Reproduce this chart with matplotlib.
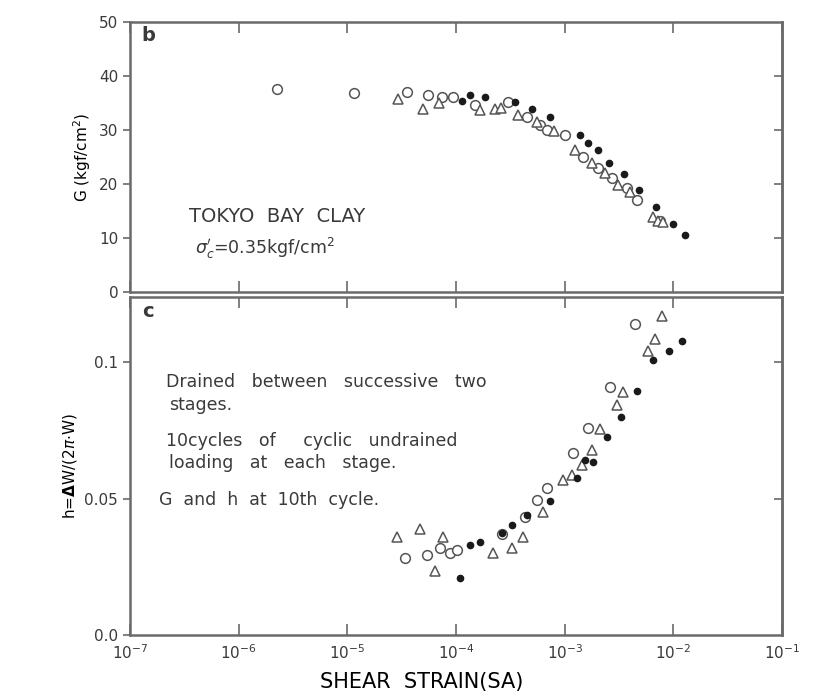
import matplotlib.pyplot as plt
from matplotlib.ticker import FixedLocator, NullLocator

# panel b : shear modulus G (kgf/cm2)
g_circ_x = [2.25e-6, 1.15e-5, 3.5e-5, 5.5e-5, 7.4e-5, 9.4e-5, 1.49e-4, 3.0e-4, 4.5e-4,
            5.9e-4, 6.9e-4, 1.0e-3, 1.47e-3, 2.02e-3, 2.72e-3, 3.73e-3, 4.6e-3, 7.5e-3]
g_circ_y = [37.6, 36.9, 37.0, 36.5, 36.1, 36.1, 34.6, 35.2, 32.5,
            30.9, 30.0, 29.1, 25.0, 23.0, 21.1, 19.3, 17.0, 13.2]
g_tri_x = [2.9e-5, 5.0e-5, 7.0e-5, 1.66e-4, 2.3e-4, 2.6e-4, 3.7e-4, 5.5e-4, 8.0e-4,
           1.24e-3, 1.78e-3, 2.34e-3, 3.09e-3, 4.0e-3, 6.5e-3, 7.2e-3, 8.0e-3]
g_tri_y = [35.7, 34.0, 35.0, 33.7, 34.0, 34.2, 32.8, 31.5, 29.8,
           26.3, 23.9, 22.0, 19.8, 18.5, 13.9, 13.2, 13.0]
g_dot_x = [1.13e-4, 1.34e-4, 1.85e-4, 3.48e-4, 5.0e-4, 7.3e-4, 1.38e-3, 1.63e-3,
           2.02e-3, 2.55e-3, 3.5e-3, 4.8e-3, 6.9e-3, 9.9e-3, 1.28e-2]
g_dot_y = [35.5, 36.5, 36.1, 35.2, 34.0, 32.4, 29.1, 27.6,
           26.3, 24.0, 21.8, 18.9, 15.8, 12.6, 10.6]

# panel c : damping ratio h
h_circ_x = [3.39e-5, 5.4e-5, 7.1e-5, 8.8e-5, 1.02e-4, 2.64e-4, 4.3e-4, 5.55e-4,
            6.86e-4, 1.19e-3, 1.63e-3, 2.61e-3, 4.42e-3]
h_circ_y = [0.0283, 0.0294, 0.032, 0.0300, 0.031, 0.037, 0.0434, 0.0496,
            0.054, 0.0669, 0.076, 0.091, 0.114]
h_tri_x = [2.86e-5, 4.66e-5, 6.4e-5, 7.6e-5, 2.18e-4, 3.27e-4, 4.12e-4, 6.3e-4, 9.6e-4,
           1.16e-3, 1.44e-3, 1.78e-3, 2.11e-3, 3.02e-3, 3.43e-3, 5.82e-3, 6.76e-3, 7.83e-3]
h_tri_y = [0.036, 0.039, 0.0235, 0.036, 0.030, 0.032, 0.036, 0.0452, 0.057,
           0.0588, 0.0625, 0.068, 0.0754, 0.0845, 0.089, 0.104, 0.1085, 0.117]
h_dot_x = [1.09e-4, 1.34e-4, 1.66e-4, 2.64e-4, 3.27e-4, 4.49e-4, 7.3e-4, 1.29e-3,
           1.53e-3, 1.82e-3, 2.44e-3, 3.29e-3, 4.61e-3, 6.47e-3, 9.1e-3, 1.2e-2]
h_dot_y = [0.0210, 0.033, 0.034, 0.0375, 0.0404, 0.044, 0.049, 0.0574,
           0.0643, 0.0636, 0.0728, 0.0798, 0.0894, 0.101, 0.104, 0.108]

x_ticks = [1e-7, 1e-6, 1e-5, 1e-4, 1e-3, 1e-2, 1e-1]
x_labels = ['10$^{-7}$', '10$^{-6}$', '10$^{-5}$', '10$^{-4}$', '10$^{-3}$', '10$^{-2}$', '10$^{-1}$']
g_ticks = [0, 10, 20, 30, 40, 50]
h_ticks = [0.0, 0.05, 0.1]
h_labels = ['0.0', '0.05', '0.1']

ink = '#3a3a3a'
plt.rcParams['font.family'] = 'DejaVu Sans'
plt.rcParams['text.color'] = ink
plt.rcParams['axes.edgecolor'] = '#6a6a6a'
plt.rcParams['axes.linewidth'] = 1.8
plt.rcParams['xtick.color'] = '#6a6a6a'
plt.rcParams['ytick.color'] = '#6a6a6a'
plt.rcParams['xtick.labelcolor'] = ink
plt.rcParams['ytick.labelcolor'] = ink

fig = plt.figure(figsize=(8.33, 6.97), dpi=100)
ax1 = fig.add_axes([0.156, 0.581, 0.783, 0.387])
ax2 = fig.add_axes([0.156, 0.089, 0.783, 0.485])

open_kw = dict(ls='none', mfc='white', mec='#555555', mew=1.1)
for ax, cx, cy, tx, ty, dx, dy in [
        (ax1, g_circ_x, g_circ_y, g_tri_x, g_tri_y, g_dot_x, g_dot_y),
        (ax2, h_circ_x, h_circ_y, h_tri_x, h_tri_y, h_dot_x, h_dot_y)]:
    ax.plot(cx, cy, marker='o', ms=7, **open_kw)
    ax.plot(tx, ty, marker='^', ms=7.5, **open_kw)
    ax.plot(dx, dy, marker='o', ms=4.5, ls='none', color='#1a1a1a')
    ax.set_xscale('log')
    ax.set_xlim(1e-7, 1e-1)
    ax.xaxis.set_major_locator(FixedLocator(x_ticks))
    ax.xaxis.set_minor_locator(NullLocator())
    ax.tick_params(axis='x', which='major', direction='in', top=True, length=8, width=1.2)
    ax.tick_params(axis='y', which='major', direction='out', length=5, width=1.2, labelsize=11)
    ax.tick_params(axis='x', labelsize=11)

# right-hand ticks pointing inward
for ax, ticks in [(ax1, g_ticks[1:-1]), (ax2, [0.05, 0.1])]:
    r = ax.secondary_yaxis('right')
    r.set_yticks(ticks)
    r.set_yticklabels([])
    r.tick_params(direction='in', length=6, width=1.2)

ax1.set_ylim(0, 50)
ax1.set_yticks(g_ticks)
ax1.set_xticklabels([])
ax1.set_ylabel('G (kgf/cm$^2$)', fontsize=11)
ax1.text(0.018, 0.93, 'b', transform=ax1.transAxes, fontsize=14, fontweight='bold')
ax1.text(0.09, 0.26, 'TOKYO  BAY  CLAY', transform=ax1.transAxes, fontsize=14)
ax1.text(0.10, 0.14, "$\\sigma_c'$=0.35kgf/cm$^2$", transform=ax1.transAxes, fontsize=12.5)

ax2.set_ylim(0, 0.124)
ax2.set_yticks(h_ticks)
ax2.set_yticklabels(h_labels)
ax2.set_xticklabels(x_labels)
ax2.tick_params(axis='x', pad=6)
ax2.set_ylabel('h=$\\mathbf{\\Delta}$W/(2$\\pi$$\\cdot$W)', fontsize=11)
ax2.set_xlabel('SHEAR  STRAIN(SA)', fontsize=15)
ax2.xaxis.set_label_coords(0.448, -0.11)
ax2.text(0.018, 0.94, 'c', transform=ax2.transAxes, fontsize=14, fontweight='bold')

note_kw = dict(transform=ax2.transAxes, fontsize=12.5)
ax2.text(0.055, 0.735, 'Drained   between   successive   two', **note_kw)
ax2.text(0.060, 0.665, 'stages.', **note_kw)
ax2.text(0.055, 0.560, '10cycles   of     cyclic   undrained', **note_kw)
ax2.text(0.060, 0.495, 'loading   at   each   stage.', **note_kw)
ax2.text(0.045, 0.385, 'G  and  h  at  10th  cycle.', **note_kw)

fig.savefig('out.png', dpi=100)
